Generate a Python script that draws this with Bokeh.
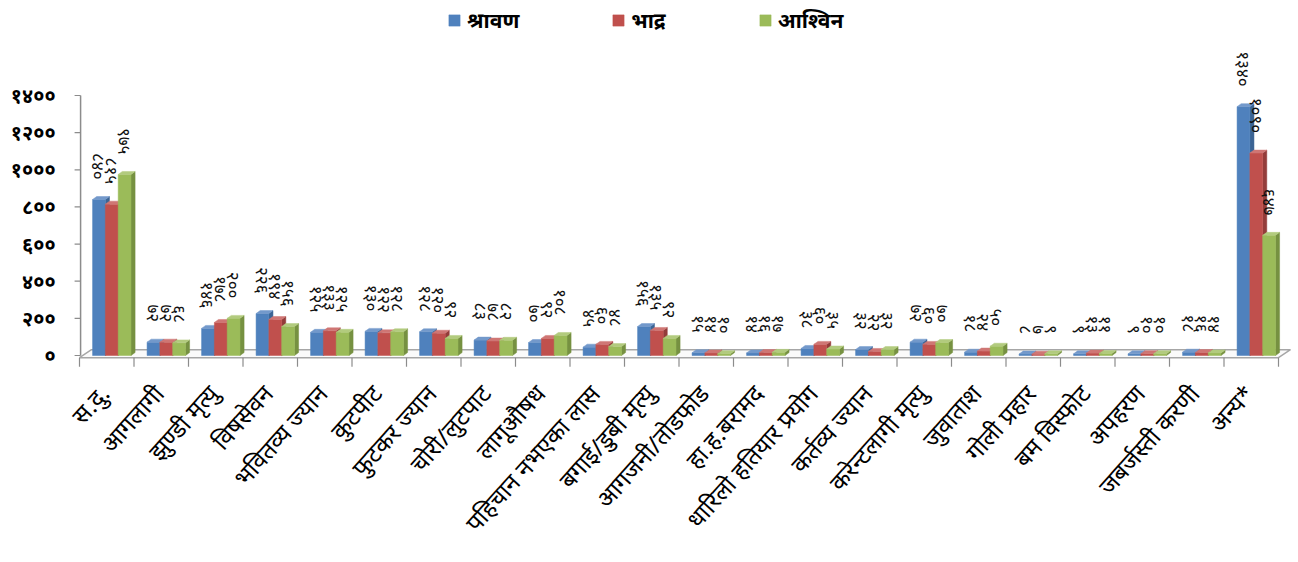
import math
from bokeh.plotting import figure
from bokeh.models import Range1d, Legend, LegendItem, ColumnDataSource
from bokeh.core.properties import value
from bokeh.embed import file_html
from bokeh.resources import INLINE

# ---------------- data ----------------
categories = ["स.दु.", "आगलागी", "झुण्डी मृत्यु", "विषसेवन", "भवितव्य ज्यान", "कुटपीट",
              "फुटकर ज्यान", "चोरी/लुटपाट", "लागूऔषध", "पहिचान नभएका लास",
              "बगाई/डुबी मृत्यु", "आगजनी/तोडफोड", "हा.ह.बरामद", "धारिलो हतियार प्रयोग",
              "कर्तव्य ज्यान", "करेन्टलागी मृत्यु", "जुवाताश", "गोली प्रहार", "बम विस्फोट",
              "अपहरण", "जबर्जस्ती करणी", "अन्य*"]
series_names = ["श्रावण", "भाद्र", "आश्विन"]
shrawan = [840, 72, 146, 226, 125, 130, 128, 83, 70, 45, 156, 15, 14, 38, 32, 72, 18, 8, 9, 9, 18, 1340]
bhadra = [815, 72, 178, 194, 133, 122, 120, 78, 92, 60, 135, 14, 16, 60, 22, 60, 24, 7, 13, 10, 16, 1090]
ashwin = [975, 68, 200, 156, 125, 128, 92, 82, 108, 48, 92, 10, 17, 35, 32, 70, 50, 9, 11, 10, 14, 647]
y_ticks = [0, 200, 400, 600, 800, 1000, 1200, 1400]
y_tick_labels = ["०", "२००", "४००", "६००", "८००", "१०००", "१२००", "१४००"]

# ---------------- style ----------------
front_colors = ["#4F81BD", "#C0504D", "#9BBB59"]
side_colors = ["#3B6494", "#933C3A", "#769141"]
top_colors = ["#7399CB", "#CF7674", "#B2CB7E"]
FONT = "Noto Sans"
DEV_DIGITS = str.maketrans("0123456789", "०१२३४५६७८९")

W, H = 1292, 554
n = len(categories)
PX = 260 / 1400.0          # px per value unit
UNIT = 54.5                # px per category
ZERO_Y = 355               # canvas y of value 0
LEFT_EDGE = 79             # canvas x of category boundary -0.5
x_start = -0.5 - LEFT_EDGE / UNIT
x_end = x_start + W / UNIT
y_start, y_end = -(H - ZERO_Y) / PX, ZERO_Y / PX

p = figure(width=W, height=H, output_backend="svg", toolbar_location=None,
           x_range=Range1d(x_start, x_end), y_range=Range1d(y_start, y_end),
           x_axis_location=None, y_axis_location=None,
           min_border_left=0, min_border_right=0, min_border_top=0, min_border_bottom=0)
p.outline_line_color = None
p.xgrid.visible = False
p.ygrid.visible = False
p.background_fill_color = "white"
p.border_fill_color = "white"

bar_w = 0.235
offsets = [-0.26, -0.025, 0.21]
ddx = 0.075   # 3D depth (x, category units)
ddy = 16      # 3D depth (y, value units)

# floor
fdx, f_front, f_back = 0.22, -12, 31
p.patch([-0.5, n - 0.5, n - 0.5 + fdx, -0.5 + fdx], [f_front, f_front, f_back, f_back],
        fill_color="#FAFAFA", line_color="#A6A6A6", line_width=1.5)
# category separator ticks below floor
bounds = [i - 0.5 for i in range(n + 1)]
p.segment(x0=bounds, y0=[f_front] * len(bounds), x1=bounds, y1=[f_front - 9 / PX] * len(bounds),
          line_color="#8C8C8C", line_width=1.2)

# bars with pseudo-3D faces
front_renderers = []
for s, vals in enumerate([shrawan, bhadra, ashwin]):
    lefts = [i + offsets[s] for i in range(n)]
    rights = [l + bar_w for l in lefts]
    side_xs = [[r, r + ddx, r + ddx, r] for r in rights]
    side_ys = [[0, ddy, v + ddy, v] for v in vals]
    top_xs = [[l, r, r + ddx, l + ddx] for l, r in zip(lefts, rights)]
    top_ys = [[v, v, v + ddy, v + ddy] for v in vals]
    p.patches(side_xs, side_ys, fill_color=side_colors[s], line_color=side_colors[s], line_width=0.5)
    r = p.quad(left=lefts, right=rights, bottom=0, top=vals, fill_color=front_colors[s],
               line_color=front_colors[s], line_width=0.5)
    p.patches(top_xs, top_ys, fill_color=top_colors[s], line_color=top_colors[s], line_width=0.5)
    front_renderers.append(r)
    # data labels (rotated, above each bar)
    src = ColumnDataSource(dict(x=[(l + rr) / 2 for l, rr in zip(lefts, rights)],
                                y=[v + 20 / PX for v in vals],
                                t=[str(v).translate(DEV_DIGITS) for v in vals]))
    p.text(x="x", y="y", text="t", source=src, angle=-math.pi / 2, text_align="right",
           text_baseline="middle", text_font=value(FONT), text_font_size="17px",
           text_color="#111111")

# category labels (rotated)
lab_src = ColumnDataSource(dict(x=[i - 0.05 for i in range(n)], y=[-33 / PX] * n, t=categories))
p.text(x="x", y="y", text="t", source=lab_src, angle=math.radians(48), text_align="right",
       text_baseline="middle", text_font=value(FONT), text_font_size="24px", text_color="#000000")

# y axis: line 0..1400, ticks and Devanagari labels
axis_x = -0.48
p.segment(x0=[axis_x], y0=[0], x1=[axis_x], y1=[y_ticks[-1]], line_color="#8C8C8C", line_width=1.5)
p.segment(x0=[axis_x] * len(y_ticks), y0=y_ticks, x1=[axis_x - 6 / UNIT] * len(y_ticks), y1=y_ticks,
          line_color="#8C8C8C", line_width=1.2)
ysrc = ColumnDataSource(dict(x=[axis_x - 25 / UNIT] * len(y_ticks), y=y_ticks, t=y_tick_labels))
p.text(x="x", y="y", text="t", source=ysrc, text_align="right", text_baseline="middle",
       text_font=value(FONT), text_font_size="20px", text_font_style="bold", text_color="#000000")

legend = Legend(items=[LegendItem(label=series_names[i], renderers=[front_renderers[i]]) for i in range(3)],
                orientation="horizontal", location=(447, 520))
legend.glyph_width = 14
legend.glyph_height = 14
legend.label_standoff = 6
legend.spacing = 92
legend.label_width = 0
legend.padding = 0
legend.margin = 0
legend.border_line_color = None
legend.background_fill_alpha = 0
legend.label_text_font = FONT
legend.label_text_font_size = "21px"
legend.label_text_font_style = "bold"
legend.label_text_color = "#000000"
p.add_layout(legend)

open("out.html", "w").write(file_html(p, INLINE))
